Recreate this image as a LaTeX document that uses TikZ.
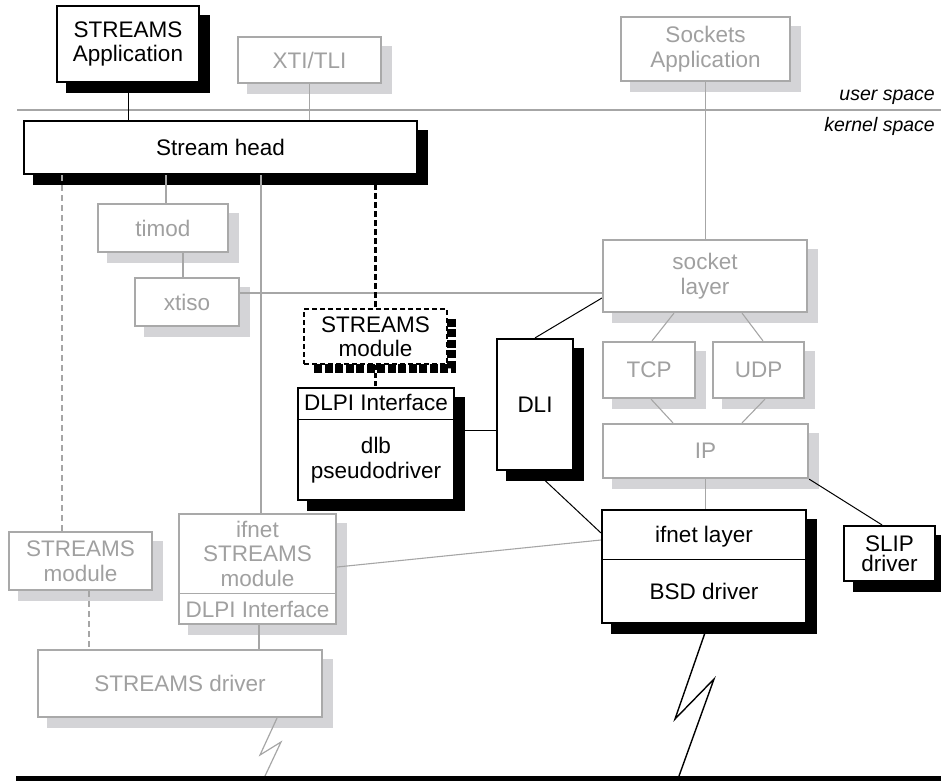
\documentclass[tikz,border=0pt]{standalone}
\usepackage{fontspec}
\setmainfont{Liberation Sans}
\usetikzlibrary{calc}
\definecolor{edgegray}{HTML}{A9A9A9}
\definecolor{textgray}{HTML}{A0A0A0}
\definecolor{linegray}{HTML}{A6A6A6}
\definecolor{shadegray}{HTML}{D4D4D7}
\pgfdeclarelayer{shades}
\pgfdeclarelayer{wires}
\pgfsetlayers{shades,wires,main}
% offset block shadow behind a box
\newcommand{\boxshade}[2]{\fill[#2] ([xshift=10pt,yshift=-10pt]#1.south west) rectangle ([xshift=10pt,yshift=-10pt]#1.north east);}

\begin{document}
\begin{tikzpicture}[x=1pt,y=-1pt,
  font=\fontsize{22.5}{24.5}\selectfont,
  dims/.style 2 args={minimum width=#1pt,minimum height=#2pt},
  darkbox/.style={draw=black,line width=2.2pt,fill=white,inner sep=0pt,align=center,text=black},
  lightbox/.style={draw=edgegray,line width=2.2pt,fill=white,inner sep=0pt,align=center,text=textgray},
  dashbox/.style={draw=black,line width=2.2pt,dash pattern=on 5pt off 3pt,fill=white,inner sep=0pt,align=center,text=black},
  inbox/.style={inner sep=0pt,align=center},
  darkwire/.style={draw=black,line width=1pt},
  lightwire/.style={draw=linegray,line width=1.1pt},
  lightdash/.style={lightwire,dash pattern=on 6pt off 4pt},
  darkdash/.style={draw=black,line width=2.5pt,dash pattern=on 6pt off 3pt},
  spacelbl/.style={anchor=base east,inner sep=0pt,font=\fontsize{19.5}{22}\selectfont\itshape}
]
\useasboundingbox (0,0) rectangle (941,780);

% ---------- boxes ----------
\node[darkbox,dims={142}{76}] (sapp) at (128,44) {STREAMS\\Application};
\node[lightbox,dims={143}{46}] (xti) at (309.5,60) {XTI/TLI};
\node[lightbox,dims={169}{64}] (sockapp) at (705.5,49) {Sockets\\Application};
\node[darkbox,dims={393}{53}] (shead) at (220.5,147.5) {Stream head};

\node[lightbox,dims={130}{48}] (timod) at (163,228) {timod};
\node[lightbox,dims={104}{48}] (xtiso) at (187,302) {xtiso};

\node[dashbox,dims={143}{55}] (smod) at (375.5,336.5) {STREAMS\\module};

\node[darkbox,dims={156}{112}] (dlb) at (376,444) {};
\draw[line width=1pt] ([yshift=25pt]dlb.west) -- ([yshift=25pt]dlb.east);
\node[inbox] (dlbtop) at ([yshift=-16pt]dlb.north) {DLPI Interface};
\node[inbox] (dlbbot) at ([yshift=41pt]dlb.south) {dlb\\pseudodriver};

\node[darkbox,dims={76}{131}] (dli) at (535,404.5) {DLI};

\node[lightbox,dims={204}{72}] (sock) at (705,276) {socket\\layer};
\node[lightbox,dims={92}{56}] (tcp) at (649,370) {TCP};
\node[lightbox,dims={91}{56}] (udp) at (758.5,370) {UDP};
\node[lightbox,dims={205}{54}] (ip) at (705.5,451) {IP};

\node[darkbox,dims={204}{113}] (bsd) at (704,566.5) {};
\draw[line width=1pt] ([yshift=7.5pt]bsd.west) -- ([yshift=7.5pt]bsd.east);
\node[inbox] (bsdtop) at ([yshift=-28pt]bsd.north) {ifnet layer};
\node[inbox] (bsdbot) at ([yshift=33pt]bsd.south) {BSD driver};

\node[darkbox,dims={91}{55}] (slip) at (889.5,553.5) {SLIP\\[-4pt]driver};

\node[lightbox,dims={143}{58}] (lmod) at (80.5,561) {STREAMS\\module};

\node[lightbox,dims={157}{110}] (ifmod) at (257.5,569) {};
\draw[draw=edgegray,line width=1pt] ([yshift=-24pt]ifmod.west) -- ([yshift=-24pt]ifmod.east);
\node[inbox,text=textgray] (ifmodtop) at ([yshift=-41pt]ifmod.north) {ifnet\\STREAMS\\module};
\node[inbox,text=textgray] (ifmodbot) at ([yshift=16pt]ifmod.south) {DLPI Interface};

\node[lightbox,dims={284}{67}] (sdrv) at (180,683.5) {STREAMS driver};

% ---------- user / kernel boundary ----------
\coordinate (sepL) at (17,110);
\coordinate (sepR) at (941,110);
\node[spacelbl] (userlbl) at (935,100) {user space};
\node[spacelbl] (kernlbl) at (935,131) {kernel space};

% ---------- network bus ----------
\coordinate (busL) at (16,776);
\coordinate (busR) at (946,782);
\coordinate (tapA) at (265,776);
\coordinate (tapB) at (679,776);
\fill[black] (busL) rectangle (busR);

% ---------- shadows ----------
\begin{pgfonlayer}{shades}
\boxshade{sapp}{black}
\boxshade{shead}{black}
\boxshade{dlb}{black}
\boxshade{dli}{black}
\boxshade{bsd}{black}
\boxshade{slip}{black}
\boxshade{xti}{shadegray}
\boxshade{sockapp}{shadegray}
\boxshade{timod}{shadegray}
\boxshade{xtiso}{shadegray}
\boxshade{sock}{shadegray}
\boxshade{tcp}{shadegray}
\boxshade{udp}{shadegray}
\boxshade{ip}{shadegray}
\boxshade{lmod}{shadegray}
\boxshade{ifmod}{shadegray}
\boxshade{sdrv}{shadegray}
\draw[line width=9pt,dash pattern=on 8pt off 2.5pt]
  ([xshift=3.5pt,yshift=-11pt]smod.north east) --
  ([xshift=3.5pt,yshift=-3pt]smod.south east) --
  ([xshift=11pt,yshift=-3pt]smod.south west);
\end{pgfonlayer}

% ---------- connectors ----------
\coordinate (lmodIn) at ([xshift=-18.5pt]lmod.north);
\coordinate (timodIn) at ([xshift=3pt]timod.north);
\coordinate (xtisoIn) at ([xshift=-4pt]xtiso.north);
\coordinate (xtisoOut) at ([yshift=9pt]xtiso.east);
\coordinate (ifmodIn) at ([xshift=3.5pt]ifmod.north);
\coordinate (dlbOut) at ([yshift=14pt]dlb.east);
\coordinate (sockDli) at ([yshift=-22pt]sock.west);
\coordinate (bsdDli) at ([yshift=-24pt]bsd.north west);
\coordinate (sockTcp) at ([xshift=-31pt]sock.south);
\coordinate (tcpIn) at ([xshift=3pt]tcp.north);
\coordinate (sockUdp) at ([xshift=37pt]sock.south);
\coordinate (udpIn) at ([xshift=4.5pt]udp.north);
\coordinate (tcpOut) at ([xshift=2pt]tcp.south);
\coordinate (ipTcp) at ([xshift=-32.5pt]ip.north);
\coordinate (udpOut) at ([xshift=6.5pt]udp.south);
\coordinate (ipUdp) at ([xshift=36.5pt]ip.north);
\coordinate (slipIn) at ([xshift=-7.5pt]slip.north);
\coordinate (ifmodOut) at ([yshift=2pt]ifmod.east);
\coordinate (bsdIfmod) at ([yshift=26.5pt]bsd.west);
\coordinate (lmodOut) at ([xshift=8.5pt]lmod.south);
\coordinate (ifmodDown) at ([xshift=1.5pt]ifmod.south);
\coordinate (sdrvOut) at ([xshift=97pt]sdrv.south);
\coordinate (bsdOut) at ([xshift=4pt]bsd.south);

\begin{pgfonlayer}{wires}
\draw[lightwire] (sepL) -- (sepR);
\draw[darkwire] (sapp.south) -- (sapp.south |- shead.north);
\draw[lightwire] (xti.south) -- (xti.south |- shead.north);
\draw[lightwire] (sockapp.south) -- (sockapp.south |- sock.north);
\draw[lightdash] (lmodIn |- shead.south) -- (lmodIn);
\draw[lightwire] (timodIn |- shead.south) -- (timodIn);
\draw[lightwire] (xtisoIn |- timod.south) -- (xtisoIn);
\draw[lightwire] (xtisoOut) -- (xtisoOut -| sock.west);
\draw[lightwire] (ifmodIn |- shead.south) -- (ifmodIn);
\draw[darkdash] (smod.north |- shead.south) -- (smod.north);
\draw[darkdash,dash pattern=on 5pt off 3pt] (smod.south) -- (smod.south |- dlb.north);
\draw[darkwire] (dlbOut) -- (dlbOut -| dli.west);
\draw[darkwire] (dli.north) -- (sockDli);
\draw[darkwire] (dli.south) -- (bsdDli);
\draw[lightwire] (sockTcp) -- (tcpIn);
\draw[lightwire] (sockUdp) -- (udpIn);
\draw[lightwire] (tcpOut) -- (ipTcp);
\draw[lightwire] (udpOut) -- (ipUdp);
\draw[lightwire] (ip.south) -- (ip.south |- bsd.north);
\draw[darkwire] (ip.south east) -- (slipIn);
\draw[lightwire] (ifmodOut) -- (bsdIfmod);
\draw[lightdash] (lmodOut) -- (lmodOut |- sdrv.north);
\draw[lightwire] (ifmodDown) -- (ifmodDown |- sdrv.north);
% links to the network
\draw[lightwire,line width=1.2pt] (sdrvOut) -- (260,755) -- (281,742) -- (tapA);
\draw[darkwire,line width=1.4pt] (bsdOut) -- (675,719) -- (714,679) -- (tapB);
\end{pgfonlayer}
\end{tikzpicture}
\end{document}
